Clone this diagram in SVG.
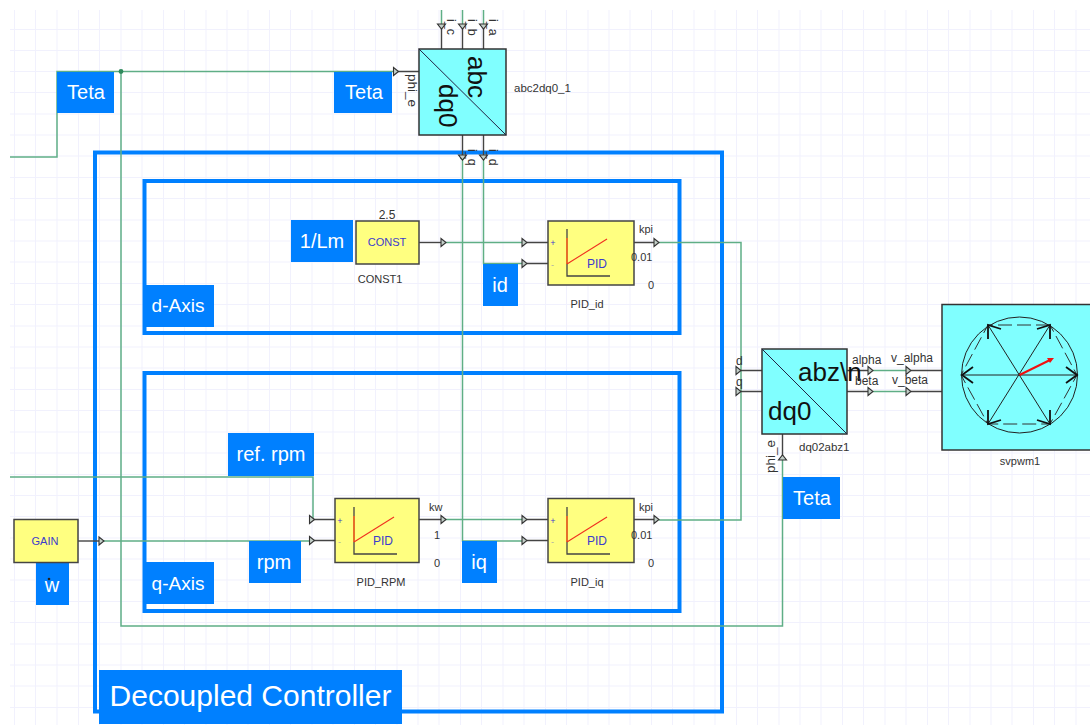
<svg xmlns="http://www.w3.org/2000/svg" width="1090" height="725" viewBox="0 0 1090 725">
<style>
text{font-family:"Liberation Sans",Arial,sans-serif;fill:#333;font-size:11px}
.grid{stroke:#f1f1fd;stroke-width:1;fill:none}
.w{stroke:#5fae86;stroke-width:1.5;fill:none}
.k{stroke:#444;stroke-width:1.4;fill:none}
.frame{fill:none;stroke:#0080ff;stroke-width:4}
.lab{fill:#0080ff}
.lt{fill:#fff;font-size:20px;text-anchor:middle}
.cy{fill:#80ffff;stroke:#333;stroke-width:1.5}
.ye{fill:#ffff80;stroke:#444;stroke-width:1.5}
.big{fill:#111;font-size:26px}
.blue{fill:#3c3ccc;font-size:11px;text-anchor:middle}
.c{text-anchor:middle}
.pin{fill:#c4d0ca;stroke:#333;stroke-width:1.1}
.v{stroke:#222;stroke-width:1;fill:none}
.ah{stroke:#111;stroke-width:1.8;fill:none}
.dash{stroke:#333;stroke-width:1;fill:none;stroke-dasharray:14 5}
.s12{font-size:12.500px}
.s13{font-size:13.500px}
.pm{font-size:9px}
.mn{fill:#aaa;font-size:9px}
</style>
<defs>
<polygon id="pr" class="pin" points="0,-4 5,0 0,4"/>
<polygon id="pd" class="pin" points="-4,0 4,0 0,5"/>
<polygon id="pu" class="pin" points="-4,0 4,0 0,-5"/>
<g id="pidg">
<path d="M19,9V56H62" stroke="#444" stroke-width="1.3" fill="none"/>
<path d="M19,18V44" stroke="#ff6a20" stroke-width="1.6" fill="none"/>
<path d="M19,44L59,19" stroke="#f03020" stroke-width="1.1" fill="none"/>
</g>
</defs>
<rect width="1090" height="725" fill="#fff"/>
<path class="grid" d="M14.500,10V725M35.500,10V725M57,10V725M78.500,10V725M99.500,10V725M121,10V725M142,10V725M163.500,10V725M184.500,10V725M206,10V725M227,10V725M248,10V725M269.500,10V725M290.500,10V725M312,10V725M333,10V725M354.500,10V725M375.500,10V725M397,10V725M418,10V725M439,10V725M460.500,10V725M481.500,10V725M503,10V725M524,10V725M545.500,10V725M566.500,10V725M588,10V725M609,10V725M630,10V725M651.500,10V725M672.500,10V725M694,10V725M715,10V725M736.500,10V725M757.500,10V725M779,10V725M800,10V725M821,10V725M842.500,10V725M863.500,10V725M885,10V725M906,10V725M927.500,10V725M948.500,10V725M970,10V725M991,10V725M1012,10V725M1033.500,10V725M1054.500,10V725M1076,10V725M10,29.500H1090M10,50.500H1090M10,71.500H1090M10,92.500H1090M10,114H1090M10,135H1090M10,156H1090M10,177.500H1090M10,198.500H1090M10,220H1090M10,241H1090M10,262H1090M10,283.500H1090M10,304.500H1090M10,326H1090M10,347H1090M10,368H1090M10,389.500H1090M10,410.500H1090M10,432H1090M10,453H1090M10,474.500H1090M10,495.500H1090M10,516.500H1090M10,538H1090M10,559H1090M10,580H1090M10,601.500H1090M10,622.500H1090M10,644H1090M10,665H1090M10,686H1090M10,707.500H1090"/>

<g id="frames">
<rect class="frame" x="95" y="152.500" width="627" height="559"/>
<rect class="frame" x="144.500" y="181" width="535" height="152"/>
<rect class="frame" x="144.500" y="373" width="535" height="238"/>
</g>

<g id="connectors">
<path class="w" d="M10,157H57V71.500H395"/>
<path class="w" d="M121,71.500V626H782.500V460"/>
<path class="w" d="M441.500,10V25M462.500,10V25M483.500,10V25"/>
<path class="w" d="M462.500,157V541H522M483.500,157V263.500H522"/>
<path class="w" d="M445,242.500H522M659,242.500H741V520H659"/>
<path class="w" d="M445,519.500H522"/>
<path class="w" d="M10,477H313V519"/>
<path class="w" d="M103,541H310"/>
<path class="w" d="M873,370.500H906M873,391.500H906"/>
<circle cx="121" cy="71.500" r="2.400" fill="#2f8a5c"/>
<circle cx="462.500" cy="157" r="2.600" fill="#2f8a5c"/>
</g>

<g id="label-teta-left"><rect class="lab" x="57" y="72" width="57" height="41"/><text class="lt" x="86" y="99">Teta</text></g>
<g id="label-teta-top"><rect class="lab" x="334" y="72" width="58" height="41"/><text class="lt" x="364" y="99">Teta</text></g>

<g id="abc2dq0_1">
<path class="k" d="M397,71.500H419M441.500,49V27M462.500,49V27M483.500,49V27M462.500,135V157M483.500,135V157"/>
<use href="#pd" x="441.500" y="24"/><use href="#pd" x="462.500" y="24"/><use href="#pd" x="483.500" y="24"/>
<use href="#pr" x="393.500" y="71.500"/>
<use href="#pd" x="462.500" y="155"/><use href="#pd" x="483.500" y="155"/>
<rect class="cy" x="419" y="49" width="87" height="86"/>
<path d="M419,49L506,135" stroke="#224" stroke-width="1"/>
<text class="big" transform="translate(468,56) rotate(90)">abc</text>
<text class="big" transform="translate(439,84) rotate(90)">dq0</text>
<text x="514" y="92" class="s12" style="font-size:11.500px">abc2dq0_1</text>
<text transform="translate(408,74) rotate(90)" class="s13">phi_e</text>
<text transform="translate(447,19) rotate(90)" class="s12">i_c</text>
<text transform="translate(468,19) rotate(90)" class="s12">i_b</text>
<text transform="translate(489,19) rotate(90)" class="s12">i_a</text>
<text transform="translate(468,149) rotate(90)" class="s12">i_q</text>
<text transform="translate(489,149) rotate(90)" class="s12">i_d</text>
</g>

<g id="label-dlm"><rect class="lab" x="291" y="220" width="62" height="42"/><text class="lt" x="322" y="248">1/Lm</text></g>
<g id="CONST1">
<path class="k" d="M419,242.500H441"/>
<use href="#pr" x="441" y="242.500"/>
<rect class="ye" x="356" y="221" width="63" height="43"/>
<text class="blue" x="387" y="246">CONST</text>
<text class="c s12" x="387" y="219" style="font-size:12px">2.5</text>
<text class="c" x="380" y="283">CONST1</text>
</g>

<g id="label-id"><rect class="lab" x="483" y="264" width="35" height="42"/><text class="lt" x="500" y="292">id</text></g>

<g id="PID_id">
<path class="k" d="M527,242.500H548M527,263.500H548M634,242.500H654"/>
<use href="#pr" x="522" y="242.500"/><use href="#pr" x="522" y="263.500"/><use href="#pr" x="654" y="242.500"/>
<rect class="ye" x="548" y="221" width="86" height="64"/>
<use href="#pidg" x="548" y="220"/>
<text class="blue pm" x="553" y="246" style="font-size:9px">+</text>
<text x="551" y="268" class="mn">-</text>
<text class="blue" x="597" y="268" style="font-size:12px">PID</text>
<text x="639" y="233">kpi</text>
<text x="631" y="261">0.01</text>
<text x="648" y="289">0</text>
<text class="c" x="587" y="308">PID_id</text>
</g>

<g id="label-daxis"><rect class="lab" x="144" y="285" width="70" height="42"/><text class="lt" x="178" y="312" style="font-size:19px">d-Axis</text></g>
<g id="label-refrpm"><rect class="lab" x="228" y="433" width="86" height="43"/><text class="lt" x="271" y="461">ref. rpm</text></g>
<g id="label-rpm"><rect class="lab" x="249" y="541" width="52" height="42"/><text class="lt" x="274" y="569">rpm</text></g>
<g id="label-iq"><rect class="lab" x="462" y="541" width="35" height="42"/><text class="lt" x="479" y="569">iq</text></g>
<g id="label-qaxis"><rect class="lab" x="144" y="562" width="70" height="42"/><text class="lt" x="178" y="590" style="font-size:19px">q-Axis</text></g>
<g id="label-w"><rect class="lab" x="36" y="563" width="33" height="42"/><text class="lt" x="52" y="592">w</text><circle cx="49" cy="579" r="1.300" fill="#222"/></g>

<g id="GAIN">
<path class="k" d="M78,541H99"/>
<use href="#pr" x="99" y="541"/>
<rect class="ye" x="14" y="519.500" width="64" height="43"/>
<text class="blue" x="45" y="545">GAIN</text>
</g>

<g id="PID_RPM">
<path class="k" d="M313,519.500H335M313,540.500H335M419,519.500H441"/>
<use href="#pr" x="309.500" y="519.500"/><use href="#pr" x="309.500" y="540.500"/><use href="#pr" x="441" y="519.500"/>
<rect class="ye" x="335" y="498.500" width="84" height="64"/>
<use href="#pidg" x="335" y="498"/>
<text class="blue" x="340" y="524" style="font-size:9px">+</text>
<text x="338" y="545" class="mn">-</text>
<text class="blue" x="383" y="545" style="font-size:12px">PID</text>
<text x="429" y="511">kw</text>
<text x="434" y="539">1</text>
<text x="434" y="567">0</text>
<text class="c" x="381" y="586">PID_RPM</text>
</g>

<g id="PID_iq">
<path class="k" d="M527,519.500H548M527,540.500H548M634,519.500H654"/>
<use href="#pr" x="522" y="519.500"/><use href="#pr" x="522" y="540.500"/><use href="#pr" x="654" y="519.500"/>
<rect class="ye" x="548" y="498.500" width="86" height="64"/>
<use href="#pidg" x="548" y="498"/>
<text class="blue" x="553" y="524" style="font-size:9px">+</text>
<text x="551" y="545" class="mn">-</text>
<text class="blue" x="597" y="545" style="font-size:12px">PID</text>
<text x="639" y="511">kpi</text>
<text x="631" y="539">0.01</text>
<text x="648" y="567">0</text>
<text class="c" x="587" y="586">PID_iq</text>
</g>

<g id="label-decoupled"><rect class="lab" x="99" y="670" width="303" height="54"/><text class="lt" x="250.500" y="706" style="font-size:30px">Decoupled Controller</text></g>

<g id="dq02abz1">
<path class="k" d="M741,370.500H762M741,391.500H762M847,370.500H868M847,391.500H868M782.500,434V458"/>
<use href="#pr" x="736" y="370.500"/><use href="#pr" x="736" y="391.500"/><use href="#pr" x="868" y="370.500"/><use href="#pr" x="868" y="391.500"/>
<use href="#pu" x="782.500" y="460"/>
<rect class="cy" x="762" y="349" width="85" height="85"/>
<path d="M762,349L847,434" stroke="#224" stroke-width="1"/>
<text class="big" x="798" y="381">abz\n</text>
<text class="big" x="768" y="420">dq0</text>
<text x="736" y="365" style="font-size:12px">d</text>
<text x="736" y="386" style="font-size:12px">q</text>
<text x="852" y="364" style="font-size:12px">alpha</text>
<text x="855" y="385" style="font-size:12px">beta</text>
<text x="799" y="451" style="font-size:11.500px">dq02abz1</text>
<text transform="translate(775,473) rotate(-90)" class="s13">phi_e</text>
</g>

<g id="label-teta-lower"><rect class="lab" x="783" y="477" width="57" height="42"/><text class="lt" x="812" y="505">Teta</text></g>

<g id="svpwm1">
<path class="k" d="M911,370.500H942M911,391.500H942"/>
<use href="#pr" x="906" y="370.500"/><use href="#pr" x="906" y="391.500"/>
<rect class="cy" x="942" y="304.500" width="152" height="145.500"/>
<circle class="v" cx="1019.500" cy="375" r="58"/>
<path class="dash" d="M1050,325H988L961,375L988,424H1050L1077,375Z"/>
<path class="v" d="M962,375H1077M988,325L1050,424M1050,325L988,424"/>
<path class="ah" d="M973,367L962,375L973,383M1066,367L1077,375L1066,383M988,339L988,325L1001,329M1037,329L1050,325L1050,339M988,410L988,424L1001,420M1037,420L1050,424L1050,410"/>
<path d="M1019.500,375L1050,360" stroke="#f01010" stroke-width="2" fill="none"/>
<polygon points="1054,358 1047,358 1050,363" fill="#f01010"/>
<text x="891" y="362" style="font-size:12px">v_alpha</text>
<text x="892" y="384" style="font-size:12px">v_beta</text>
<text class="c" x="1020" y="465">svpwm1</text>
</g>
</svg>
